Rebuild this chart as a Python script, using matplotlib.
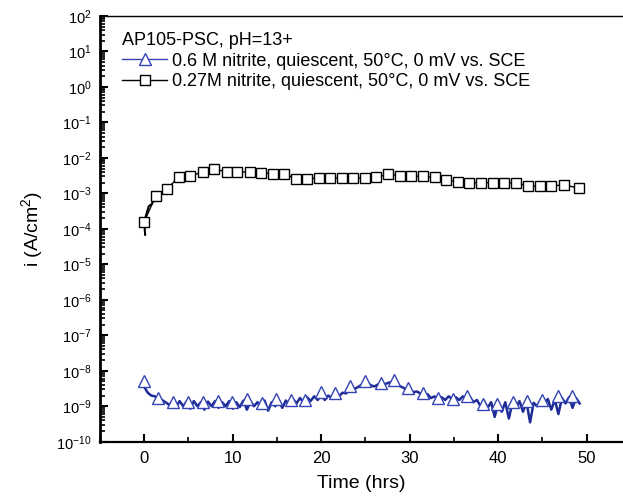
import matplotlib.pyplot as plt
from matplotlib.lines import Line2D
from matplotlib.ticker import LogLocator, MultipleLocator, NullFormatter

plt.rcParams['font.family'] = ['Liberation Sans', 'DejaVu Sans']
plt.rcParams['mathtext.fontset'] = 'custom'
plt.rcParams['mathtext.rm'] = 'Liberation Sans'
plt.rcParams['mathtext.it'] = 'Liberation Sans:italic'

# 0.6 M nitrite: raw current trace (A/cm2 in units of 1e-9)
t_raw = [0.0, 0.4, 0.8, 1.2, 1.6, 2.0, 2.4, 2.8, 3.2, 3.6, 4.0, 4.4, 4.8, 5.2, 5.6, 6.0,
         6.4, 6.8, 7.2, 7.6, 8.0, 8.4, 8.8, 9.2, 9.6, 10.0, 10.4, 10.8, 11.2, 11.6, 12.0,
         12.4, 12.8, 13.2, 13.6, 14.0, 14.4, 14.8, 15.2, 15.6, 16.0, 16.4, 16.8, 17.2,
         17.6, 18.0, 18.4, 18.8, 19.2, 19.6, 20.0, 20.4, 20.8, 21.2, 21.6, 22.0, 22.4,
         22.8, 23.2, 23.6, 24.0, 24.4, 24.8, 25.2, 25.6, 26.0, 26.4, 26.8, 27.2, 27.6,
         28.0, 28.4, 28.8, 29.2, 29.6, 30.0, 30.4, 30.8, 31.2, 31.6, 32.0, 32.4, 32.8,
         33.2, 33.6, 34.0, 34.4, 34.8, 35.2, 35.6, 36.0, 36.4, 36.8, 37.2, 37.6, 38.0,
         38.4, 38.8, 39.2, 39.6, 40.0, 40.4, 40.8, 41.2, 41.6, 42.0, 42.4, 42.8, 43.2,
         43.6, 44.0, 44.4, 44.8, 45.2, 45.6, 46.0, 46.4, 46.8, 47.2, 47.6, 48.0, 48.4,
         48.8, 49.2]
i_raw_n = [3.5, 2.4, 2.0, 1.9, 1.6, 1.5, 1.3, 1.1, 1.3, 0.95, 1.4, 1.0, 1.35, 0.85, 1.4,
           1.0, 1.3, 0.8, 1.35, 1.0, 1.4, 0.9, 1.3, 1.0, 1.4, 0.85, 1.3, 0.95, 1.45, 0.8,
           1.35, 1.0, 1.3, 0.9, 1.45, 0.75, 1.3, 1.0, 1.45, 0.9, 1.45, 1.1, 1.6, 1.2, 1.7,
           1.3, 1.8, 1.4, 1.9, 1.5, 2.1, 1.5, 2.0, 1.7, 2.2, 1.9, 2.4, 2.3, 2.8, 3.0, 3.3,
           3.8, 4.4, 4.5, 3.9, 3.6, 4.1, 3.7, 4.2, 4.6, 4.8, 4.3, 3.8, 3.4, 3.0, 2.9, 2.5,
           2.6, 2.3, 2.0, 2.2, 1.7, 1.9, 1.5, 1.8, 1.5, 1.9, 1.6, 1.8, 1.5, 1.9, 1.6, 1.8,
           1.3, 1.5, 1.0, 1.4, 0.9, 1.3, 0.5, 1.25, 0.7, 1.3, 0.45, 1.25, 0.9, 1.4, 0.7,
           1.3, 0.35, 1.25, 1.0, 1.5, 1.1, 1.6, 0.8, 1.5, 0.6, 1.7, 1.2, 1.8, 0.9, 1.7, 1.2]

# 0.6 M nitrite: marker points (units of 1e-9)
t_tri = [0.0, 1.6, 3.3, 4.9, 6.6, 8.3, 9.9, 11.6, 13.3, 14.9, 16.6, 18.2, 20.0, 21.6,
         23.3, 25.0, 26.7, 28.2, 29.8, 31.5, 33.2, 34.9, 36.5, 38.3, 39.9, 41.7, 43.3,
         45.0, 46.7, 48.3]
i_tri_n = [5.0, 1.7, 1.3, 1.35, 1.35, 1.45, 1.3, 1.6, 1.2, 1.6, 1.5, 1.5, 2.6, 2.4,
           3.6, 5.0, 4.5, 5.4, 3.2, 2.4, 1.7, 1.6, 1.9, 1.17, 1.17, 1.3, 1.4, 1.5, 1.9, 1.9]

# 0.27M nitrite: marker points (units of 1e-3)
t_sq = [0.0, 1.3, 2.55, 3.9, 5.2, 6.6, 7.9, 9.3, 10.5, 11.9, 13.2, 14.5, 15.8, 17.1,
        18.4, 19.7, 21.0, 22.3, 23.6, 24.9, 26.2, 27.6, 28.9, 30.2, 31.5, 32.8, 34.1,
        35.4, 36.7, 38.0, 39.4, 40.7, 42.0, 43.4, 44.7, 46.0, 47.4, 49.1]
i_sq_m = [0.16, 0.85, 1.3, 2.9, 3.1, 4.0, 4.8, 4.1, 4.0, 4.0, 3.8, 3.6, 3.6, 2.6, 2.6,
          2.7, 2.7, 2.7, 2.7, 2.7, 2.8, 3.5, 3.1, 3.1, 3.0, 2.8, 2.4, 2.1, 2.0, 2.0, 2.0,
          1.95, 2.0, 1.6, 1.6, 1.6, 1.75, 1.4]
# initial transient of the 0.27M trace
t_sq0 = [0.1, 0.0, 0.5, 0.85, 1.3]
i_sq0_m = [0.068, 0.16, 0.43, 0.50, 0.85]

blue_line = '#1f2c96'
blue_mark = '#3444b4'

fig = plt.figure(figsize=(6.23, 4.99), dpi=100)
ax = fig.add_axes([0.1605, 0.1148, 0.8395, 0.8532])

ax.plot(t_raw, [v * 1e-9 for v in i_raw_n], color=blue_line, lw=1.8, zorder=2)
ax.plot(t_tri, [v * 1e-9 for v in i_tri_n], ls='none', marker='^', ms=8.5,
        mfc='white', mec=blue_mark, mew=1.0, zorder=3)

ax.plot(t_sq0, [v * 1e-3 for v in i_sq0_m], color='black', lw=1.5, zorder=2)
ax.plot(t_sq, [v * 1e-3 for v in i_sq_m], color='black', lw=1.0, marker='s', ms=7.5,
        mfc='white', mec='black', mew=1.0, zorder=3)

ax.set_yscale('log')
ax.set_ylim(1e-10, 1e2)
ax.set_xlim(-5, 54.1)

ax.yaxis.set_major_locator(LogLocator(base=10, numticks=20))
ax.yaxis.set_minor_locator(LogLocator(base=10, subs=range(2, 10), numticks=20))
ax.yaxis.set_minor_formatter(NullFormatter())
ax.xaxis.set_major_locator(MultipleLocator(10))
ax.xaxis.set_minor_locator(MultipleLocator(5))

ax.tick_params(which='major', direction='in', length=6, width=1.5, labelsize=10.5, pad=6)
ax.tick_params(which='minor', direction='in', length=3.5, width=1.2)
ax.tick_params(axis='x', labelsize=12, pad=7)

ax.spines['right'].set_visible(False)
ax.spines['left'].set_linewidth(2.0)
ax.spines['bottom'].set_linewidth(1.6)
ax.spines['top'].set_linewidth(1.0)

ax.set_xlabel('Time (hrs)', fontsize=14, labelpad=6)
ax.set_ylabel('i (A/cm$^2$)', fontsize=14, labelpad=8)

handles = [
    Line2D([], [], color=blue_mark, lw=1.0, marker='^', ms=8.5, mfc='white', mec=blue_mark),
    Line2D([], [], color='black', lw=1.0, marker='s', ms=7.5, mfc='white', mec='black'),
]
labels = ['0.6 M nitrite, quiescent, 50°C, 0 mV vs. SCE',
          '0.27M nitrite, quiescent, 50°C, 0 mV vs. SCE']
ax.legend(handles, labels, title='AP105-PSC, pH=13+', loc='upper left',
          bbox_to_anchor=(0.042, 0.962), frameon=False, fontsize=13,
          title_fontsize=13, alignment='left', borderpad=0, borderaxespad=0,
          handlelength=2.5, handletextpad=0.25, labelspacing=0.2)

fig.savefig('out.png', dpi=100)
